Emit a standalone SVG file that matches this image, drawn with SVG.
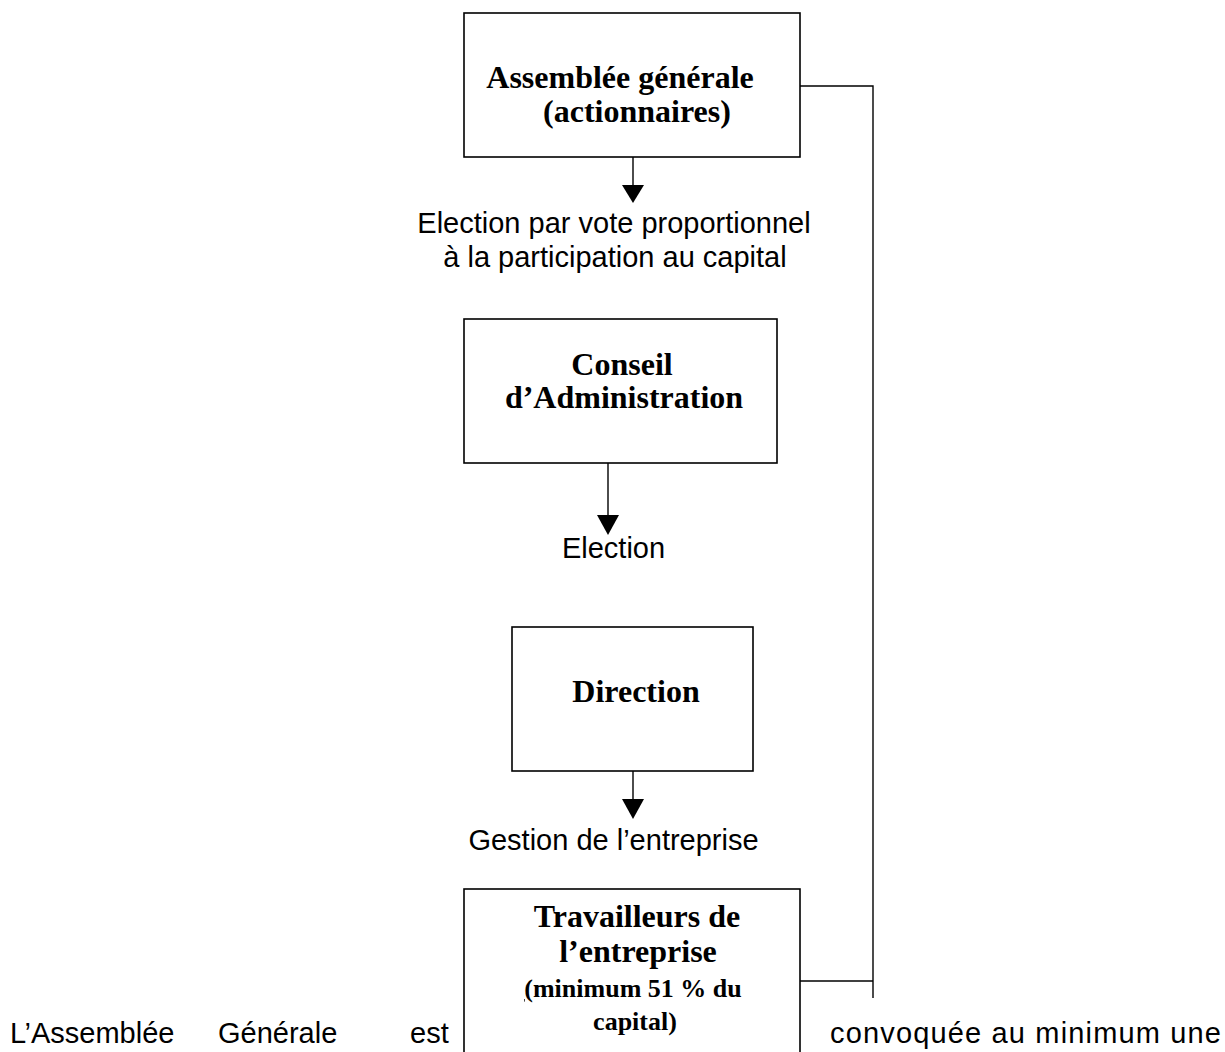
<svg xmlns="http://www.w3.org/2000/svg" width="1225" height="1052" viewBox="0 0 1225 1052">
<style>
.box{fill:#fff;stroke:#000;stroke-width:1.6}
.t{font-family:"Liberation Serif","Times New Roman",serif;font-weight:bold;font-size:32px;fill:#000;text-anchor:middle}
.ts{font-size:26px}
.a{font-family:"Liberation Sans",Arial,sans-serif;font-size:29px;fill:#000}
.m{text-anchor:middle}
.ln{fill:none;stroke:#000;stroke-width:1.4}
</style>
<defs>
<marker id="ah" viewBox="0 0 22 20" refX="11" refY="20" markerWidth="22" markerHeight="20" markerUnits="userSpaceOnUse" orient="auto-start-reverse">
<path d="M0,0 L22,0 L11,20 Z" fill="#000"/>
</marker>
</defs>
<rect width="1225" height="1052" fill="#fff"/>
<g id="connectors">
<line class="ln" x1="633" y1="157" x2="633" y2="185"/>
<path d="M622,185 L644,185 L633,203 Z" fill="#000"/>
<line class="ln" x1="608" y1="463" x2="608" y2="515"/>
<path d="M597,515 L619,515 L608,535 Z" fill="#000"/>
<line class="ln" x1="633" y1="771" x2="633" y2="799"/>
<path d="M622,799 L644,799 L633,819 Z" fill="#000"/>
<polyline class="ln" points="800,86 873,86 873,998"/>
<line class="ln" x1="800" y1="981" x2="873" y2="981"/>
</g>
<g id="assemblee">
<rect class="box" x="464" y="13" width="336" height="144"/>
<text class="t" x="620" y="88">Assemblée générale</text>
<text class="t" x="637" y="122">(actionnaires)</text>
</g>
<g id="label-vote">
<text class="a m" x="614" y="233">Election par vote proportionnel</text>
<text class="a m" x="615" y="267">à la participation au capital</text>
</g>
<g id="conseil">
<rect class="box" x="464" y="319" width="313" height="144"/>
<text class="t" x="622" y="375">Conseil</text>
<text class="t" x="624" y="408">d’Administration</text>
</g>
<g id="label-election">
<text class="a m" x="613.5" y="558">Election</text>
</g>
<g id="direction">
<rect class="box" x="512" y="627" width="241" height="144"/>
<text class="t" x="636" y="702">Direction</text>
</g>
<g id="label-gestion">
<text class="a m" x="613.5" y="850">Gestion de l’entreprise</text>
</g>
<g id="travailleurs">
<rect class="box" x="464" y="889" width="336" height="180"/>
<text class="t" x="637" y="927">Travailleurs de</text>
<text class="t" x="638" y="962">l’entreprise</text>
<text class="t ts" x="633" y="997"><tspan text-decoration="underline">(</tspan>minimum 51 % du</text>
<text class="t ts" x="635" y="1030">capital)</text>
</g>
<g id="body-text">
<text class="a" x="10" y="1043" font-size="28">L’Assemblée</text>
<text class="a" x="218" y="1043" font-size="28">Générale</text>
<text class="a" x="410" y="1043" font-size="28">est</text>
<text class="a" x="830" y="1043" font-size="28" textLength="391" lengthAdjust="spacing">convoquée au minimum une</text>
</g>
</svg>
